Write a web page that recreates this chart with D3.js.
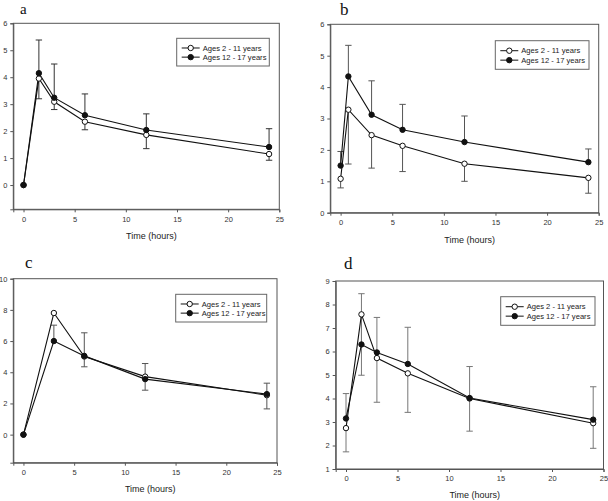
<!DOCTYPE html>
<html><head><meta charset="utf-8">
<script src="https://cdn.jsdelivr.net/npm/d3@7"></script>
<style>body{margin:0;background:#fff}svg{display:block}</style>
</head><body>
<script>
// ---------- DATA ----------
const seriesNames = ["Ages 2 - 11 years", "Ages 12 - 17 years"];
const panelLetters = ["a", "b", "c", "d"];
const xTickValues = [0, 5, 10, 15, 20, 25];
const xLabel = "Time (hours)";

// panel a
const timeA = [0, 1.5, 3, 6, 12, 24];
const youngA = [0, 3.95, 3.09, 2.35, 1.86, 1.15];
const oldA = [0, 4.15, 3.24, 2.59, 2.04, 1.41];
const youngLowA = [null, 3.2, 2.8, 2.05, 1.35, 0.92];
const oldHighA = [null, 5.38, 4.49, 3.38, 2.64, 2.09];
const yTicksA = [0, 1, 2, 3, 4, 5, 6];

// panel b
const timeB = [0, 0.75, 3, 6, 12, 24];
const youngB = [1.08, 3.28, 2.47, 2.13, 1.56, 1.11];
const oldB = [1.5, 4.34, 3.12, 2.64, 2.25, 1.61];
const youngLowB = [0.79, 1.55, 1.42, 1.31, 1.0, 0.62];
const oldHighB = [1.95, 5.33, 4.2, 3.45, 3.08, 2.03];
const yTicksB = [0, 1, 2, 3, 4, 5, 6];

// panel c
const timeC = [0, 3, 6, 12, 24];
const youngC = [0, 7.8, 5.01, 3.72, 2.53];
const oldC = [0, 6.0, 5.05, 3.56, 2.6];
const youngLowC = [null, null, 4.35, 2.85, 1.65];
const oldHighC = [null, 7.02, 6.53, 4.56, 3.3];
const yTicksC = [0, 2, 4, 6, 8, 10];

// panel d
const timeD = [0, 1.5, 3, 6, 12, 24];
const youngD = [2.74, 7.58, 5.72, 5.07, 4.0, 2.95];
const oldD = [3.15, 6.3, 5.96, 5.47, 4.02, 3.1];
const youngLowD = [1.73, 4.99, 3.84, 3.41, 2.61, 1.88];
const oldHighD = [4.21, 8.46, 7.45, 7.03, 5.36, 4.5];
const yTicksD = [1, 2, 3, 4, 5, 6, 7, 8, 9];

// ---------- LAYOUT ----------
const panels = [
  {letter: panelLetters[0], t: timeA, y1: youngA, y2: oldA, lo: youngLowA, hi: oldHighA, yTicks: yTicksA,
   yDom: [-0.9, 6], box: {l: 13.3, r: 279.3, t: 23.3, b: 209.3}, letterPos: [20, 13.5], letterSize: 15,
   xlabY: 239, leg: {x: 176.7, y: 38.3, w: 92.6, h: 27.7}, errColor: "#333"},
  {letter: panelLetters[1], t: timeB, y1: youngB, y2: oldB, lo: youngLowB, hi: oldHighB, yTicks: yTicksB,
   yDom: [0, 6], box: {l: 330.3, r: 598.7, t: 24.3, b: 212.7}, letterPos: [340, 15], letterSize: 17,
   xlabY: 242.5, leg: {x: 495.3, y: 40.7, w: 93.7, h: 28.6}, errColor: "#555"},
  {letter: panelLetters[2], t: timeC, y1: youngC, y2: oldC, lo: youngLowC, hi: oldHighC, yTicks: yTicksC,
   yDom: [-1.8, 10], box: {l: 13.3, r: 277, t: 278.7, b: 462.7}, letterPos: [25, 268], letterSize: 17,
   xlabY: 491.5, leg: {x: 175.7, y: 294.3, w: 91, h: 27.7}, errColor: "#555"},
  {letter: panelLetters[3], t: timeD, y1: youngD, y2: oldD, lo: youngLowD, hi: oldHighD, yTicks: yTicksD,
   yDom: [1, 9], box: {l: 335.7, r: 603.5, t: 281, b: 469}, letterPos: [344, 269], letterSize: 17,
   xlabY: 498.3, leg: {x: 500.7, y: 296.7, w: 94.3, h: 28.6}, errColor: "#777"}
];

const svg = d3.select("body").append("svg").attr("width", 608).attr("height", 501);
const FONT = "Arial, 'Liberation Sans', sans-serif";

panels.forEach(p => {
  const x = d3.scaleLinear().domain([-1, 25]).range([p.box.l, p.box.r]);
  const y = d3.scaleLinear().domain(p.yDom).range([p.box.b, p.box.t]);
  const g = svg.append("g");

  // frame
  g.append("rect").attr("x", p.box.l).attr("y", p.box.t)
    .attr("width", p.box.r - p.box.l).attr("height", p.box.b - p.box.t)
    .attr("fill", "none").attr("stroke", "#555").attr("stroke-width", 1);

  // axes
  const xAxis = d3.axisBottom(x).tickValues(xTickValues).tickSize(3).tickPadding(4).tickFormat(d3.format("d"));
  const gx = g.append("g").attr("transform", `translate(0,${p.box.b})`).call(xAxis);
  const yAxis = d3.axisLeft(y).tickValues(p.yTicks).tickSize(3).tickPadding(3).tickFormat(d3.format("d"));
  const gy = g.append("g").attr("transform", `translate(${p.box.l},0)`).call(yAxis);
  [gx, gy].forEach(a => {
    a.select(".domain").attr("stroke", "#555");
    a.selectAll(".tick line").attr("stroke", "#555");
    a.selectAll(".tick text").attr("font-family", FONT).attr("font-size", 7.5).attr("fill", "#333");
  });

  // x label
  g.append("text").attr("x", (x(0) + x(25)) / 2).attr("y", p.xlabY)
    .attr("text-anchor", "middle").attr("font-family", FONT).attr("font-size", 9).attr("fill", "#222")
    .text(xLabel);

  // panel letter
  g.append("text").attr("x", p.letterPos[0]).attr("y", p.letterPos[1])
    .attr("font-family", "'Liberation Serif', 'Times New Roman', serif").attr("font-size", p.letterSize).attr("fill", "#111")
    .text(p.letter);

  // error bars
  const bars = [];
  p.t.forEach((t, i) => {
    if (p.hi[i] != null) bars.push({t, from: p.y2[i], to: p.hi[i]});
    if (p.lo[i] != null) bars.push({t, from: p.y1[i], to: p.lo[i]});
  });
  const eb = g.append("g").attr("stroke", p.errColor).attr("stroke-width", 1).attr("fill", "none");
  eb.selectAll("line.v").data(bars).join("line").attr("class", "v")
    .attr("x1", d => x(d.t)).attr("x2", d => x(d.t))
    .attr("y1", d => y(d.from)).attr("y2", d => y(d.to));
  eb.selectAll("line.c").data(bars).join("line").attr("class", "c")
    .attr("x1", d => x(d.t) - 3.2).attr("x2", d => x(d.t) + 3.2)
    .attr("y1", d => y(d.to)).attr("y2", d => y(d.to));

  // lines
  const line = d3.line().x(d => x(d[0])).y(d => y(d[1]));
  const s1 = p.t.map((t, i) => [t, p.y1[i]]);
  const s2 = p.t.map((t, i) => [t, p.y2[i]]);
  g.append("path").datum(s1).attr("d", line).attr("fill", "none").attr("stroke", "#111").attr("stroke-width", 1.1);
  g.append("path").datum(s2).attr("d", line).attr("fill", "none").attr("stroke", "#111").attr("stroke-width", 1.1);

  // markers
  g.selectAll("circle.o").data(s1).join("circle").attr("class", "o")
    .attr("cx", d => x(d[0])).attr("cy", d => y(d[1])).attr("r", 2.7)
    .attr("fill", "#fff").attr("stroke", "#111").attr("stroke-width", 1);
  g.selectAll("circle.f").data(s2).join("circle").attr("class", "f")
    .attr("cx", d => x(d[0])).attr("cy", d => y(d[1])).attr("r", 2.7)
    .attr("fill", "#111").attr("stroke", "#111").attr("stroke-width", 1);

  // legend
  const L = p.leg;
  const lg = g.append("g");
  lg.append("rect").attr("x", L.x).attr("y", L.y).attr("width", L.w).attr("height", L.h)
    .attr("fill", "#fff").attr("stroke", "#666").attr("stroke-width", 1);
  seriesNames.forEach((name, i) => {
    const cy = L.y + L.h * (i === 0 ? 0.35 : 0.68);
    const x0 = L.x + 5, x1 = L.x + 23;
    lg.append("line").attr("x1", x0).attr("x2", x1).attr("y1", cy).attr("y2", cy)
      .attr("stroke", "#111").attr("stroke-width", 1);
    lg.append("circle").attr("cx", (x0 + x1) / 2).attr("cy", cy).attr("r", 2.7)
      .attr("fill", i === 0 ? "#fff" : "#111").attr("stroke", "#111");
    lg.append("text").attr("x", x1 + 3).attr("y", cy).attr("dy", "0.35em")
      .attr("font-family", FONT).attr("font-size", 7.6).attr("fill", "#222").text(name);
  });
});
</script>
</body></html>
